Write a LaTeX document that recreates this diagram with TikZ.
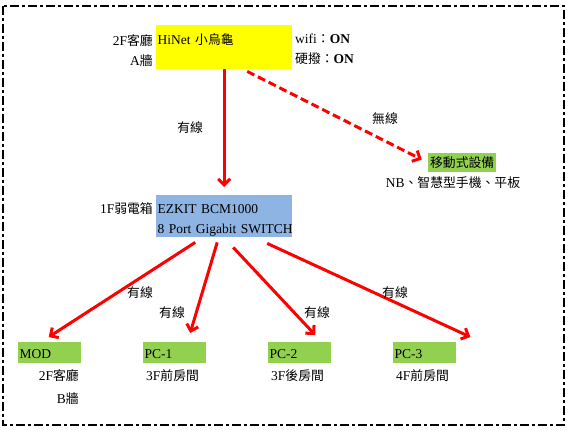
\documentclass[tikz,border=0pt]{standalone}
\usepackage{fontspec}
\setmainfont{Liberation Serif}
\newfontfamily\cjk[Scale=0.95]{Noto Sans CJK TC}
\newcommand{\zh}[1]{{\cjk #1}}
\usepackage{xcolor}
\usetikzlibrary{arrows.meta,positioning}
\definecolor{boxyellow}{HTML}{FFFF00}
\definecolor{boxgreen}{HTML}{92D050}
\definecolor{boxblue}{HTML}{8DB4E2}
\definecolor{linkred}{HTML}{FF0000}

\begin{document}
\begin{tikzpicture}[
  x=1pt, y=-1pt,
  font=\fontsize{13.5}{20}\selectfont,
  dev/.style={rectangle, anchor=north west, inner xsep=1.5pt, inner ysep=0pt, align=left},
  ybox/.style={dev, fill=boxyellow, text width=133pt, text height=19pt, text depth=25pt},
  bbox/.style={dev, fill=boxblue, text width=133pt, text height=18pt, text depth=24pt},
  gbox/.style={dev, fill=boxgreen, text width=60pt, text height=16pt, text depth=5pt},
  note/.style={inner sep=0pt},
  wire/.style={-{Straight Barb[length=6pt,width=12pt]}, line width=3pt, draw=linkred},
  air/.style={wire, dash pattern=on 8pt off 4pt},
  frame/.style={line width=1.5pt, dash pattern=on 9pt off 3pt on 3pt off 3pt},
]
\useasboundingbox (0,0) rectangle (569,431);
\draw[frame] (3,6) rectangle (564,425);
\node[ybox] (hinet) at (156,25) {HiNet \zh{小烏龜}};
\node[bbox] (switch) at (156,195) {\mbox{EZKIT BCM1000}\\\mbox{8 Port Gigabit SWITCH}};
\node[dev, fill=boxgreen, inner sep=0pt, minimum width=68pt, text height=14pt, text depth=5pt, align=center] (mobile) at (428,153) {\zh{移動式設備}};
\node[gbox] (mod) at (18,342) {MOD};
\node[gbox] (pc1) at (143,342) {PC-1};
\node[gbox] (pc2) at (268,342) {PC-2};
\node[gbox] (pc3) at (393,342) {PC-3};
\node[note, anchor=north east, align=right] (hinetloc) at (153,34) {2F\zh{客廳}\\A\zh{牆}};
\node[note, anchor=north west, align=left] (hinetstat) at (295,34) {wifi\zh{：}\textbf{ON}\\\zh{硬撥：}\textbf{ON}};
\node[note, anchor=base east] (switchloc) at (153,213) {1F\zh{弱電箱}};
\node[note, anchor=base] (mobilenote) at (453,187) {NB\zh{、智慧型手機、平板}};
\node[note, anchor=north east, align=right, font=\fontsize{13.5}{23}\selectfont] (modloc) at (79,369) {2F\zh{客廳}\\B\zh{牆}};
\node[note, anchor=base west] (pc1loc) at (146,380) {3F\zh{前房間}};
\node[note, anchor=base west] (pc2loc) at (271,380) {3F\zh{後房間}};
\node[note, anchor=base west] (pc3loc) at (396,380) {4F\zh{前房間}};
\draw[wire, shorten >=8pt] (hinet.south) -- (switch.north) node[note, pos=0.5, anchor=base, xshift=-34pt]{\zh{有線}};
\draw[air, shorten >=7pt] ([xshift=23pt,yshift=-2pt]hinet.south) -- (mobile.west) node[note, anchor=base, pos=0.74, xshift=4pt, yshift=15pt]{\zh{無線}};
\draw[wire] ([xshift=-29pt,yshift=-5pt]switch.south) -- ([xshift=-1pt,yshift=5pt]mod.north) node[note, anchor=base] at (140,297){\zh{有線}};
\draw[wire] ([xshift=-7pt,yshift=-5pt]switch.south) -- ([xshift=15.5pt,yshift=9pt]pc1.north) node[note, anchor=base] at (172,317){\zh{有線}};
\draw[wire] ([xshift=9pt,yshift=-10pt]switch.south) -- ([xshift=15.5pt,yshift=7pt]pc2.north) node[note, anchor=base] at (317,317){\zh{有線}};
\draw[wire] ([xshift=43pt,yshift=-6pt]switch.south) -- ([xshift=14pt,yshift=5pt]pc3.north east) node[note, anchor=base] at (395,297){\zh{有線}};
\end{tikzpicture}
\end{document}
